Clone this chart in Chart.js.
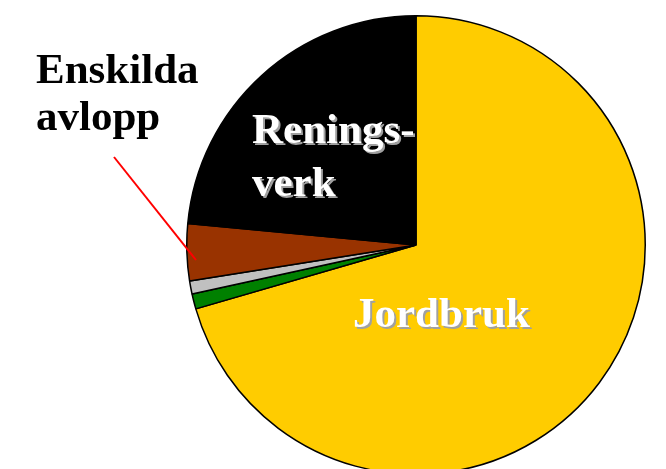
<!DOCTYPE html>
<html>
<head>
<meta charset="utf-8">
<script src="https://cdn.jsdelivr.net/npm/chart.js@4/dist/chart.umd.min.js"></script>
<style>
  html, body { margin: 0; padding: 0; width: 666px; height: 469px; overflow: hidden; background: #ffffff; }
  #wrap { position: absolute; left: 186px; top: 15px; width: 460px; height: 460px; }
  .lbl { position: absolute; font-family: "Liberation Serif", "Times New Roman", serif; font-weight: bold; font-size: 43px; white-space: nowrap; }
  .white { color: #ffffff; text-shadow: 2px 2px 0 #a0a0a0; }
  .black { color: #000000; }
  #leader { position: absolute; left: 0; top: 0; pointer-events: none; }
</style>
</head>
<body>
<div id="wrap"><canvas id="c"></canvas></div>
<svg id="leader" width="666" height="469"><line x1="114" y1="157" x2="196" y2="260" stroke="#ff0000" stroke-width="2"/></svg>
<div class="lbl black" style="left:36px; top:45.3px; line-height:47px;">Enskilda<br>avlopp</div>
<div class="lbl white" style="left:252px; top:102.3px; line-height:53px;">Renings-<br>verk</div>
<div class="lbl white" style="left:353px; top:287.7px; line-height:normal;">Jordbruk</div>
<script>
const categories = ["Jordbruk", "Övrigt 1", "Övrigt 2", "Enskilda avlopp", "Reningsverk"];
const shares = [70.5, 1.06, 0.93, 4.0, 23.5];
const sliceColors = ["#ffcc00", "#008000", "#c0c0c0", "#993300", "#000000"];

new Chart(document.getElementById("c"), {
  type: "pie",
  data: {
    labels: categories,
    datasets: [{
      data: shares,
      backgroundColor: sliceColors,
      borderColor: "#000000",
      borderWidth: 1.5
    }]
  },
  options: {
    responsive: true,
    maintainAspectRatio: false,
    animation: false,
    layout: { padding: 0 },
    plugins: { legend: { display: false }, tooltip: { enabled: false } }
  }
});
</script>
</body>
</html>
